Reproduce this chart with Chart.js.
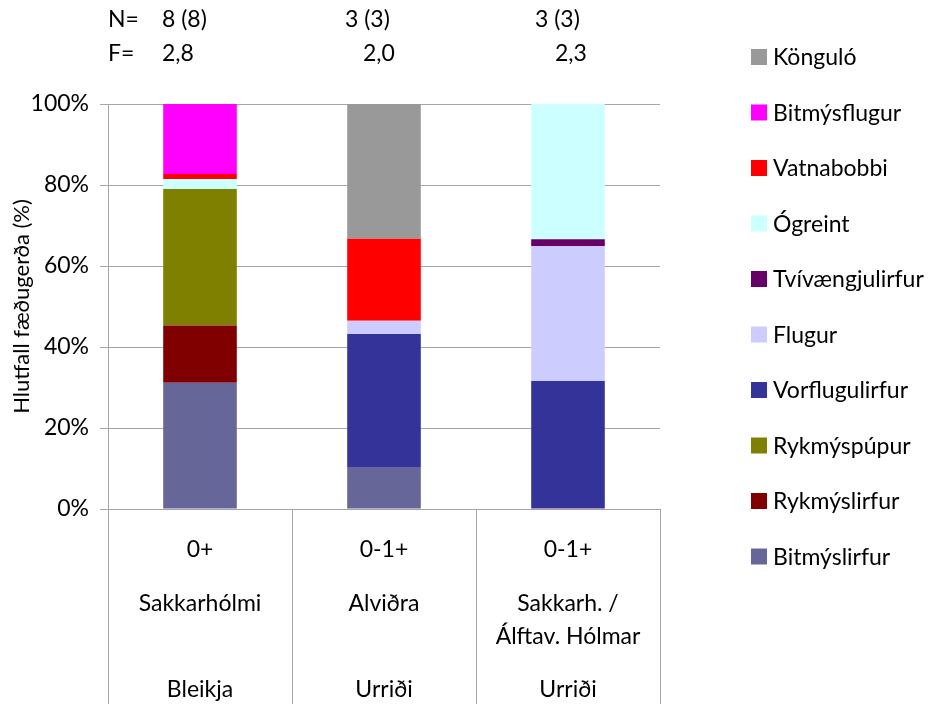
<!DOCTYPE html>
<html>
<head>
<meta charset="utf-8">
<script src="https://cdn.jsdelivr.net/npm/chart.js@4/dist/chart.umd.min.js"></script>
<style>
  html, body { margin: 0; padding: 0; background: #ffffff; }
  #wrap { width: 932px; height: 704px; }
</style>
</head>
<body>
<div id="wrap"><canvas id="c" width="932" height="704"></canvas></div>
<script>
// Food-type composition (% of diet) per sample group
const categories = ['Sakkarhólmi', 'Alviðra', 'Sakkarh. / Álftav. Hólmar'];
const ageLabels = ['0+', '0-1+', '0-1+'];
const placeLines = [['Sakkarhólmi'], ['Alviðra'], ['Sakkarh. /', 'Álftav. Hólmar']];
const speciesLabels = ['Bleikja', 'Urriði', 'Urriði'];
const nLabels = ['8 (8)', '3 (3)', '3 (3)'];
const fLabels = ['2,8', '2,0', '2,3'];
const yTicks = [0, 20, 40, 60, 80, 100];

// series, bottom of the stack first
const bitmyslirfur    = [31.2, 10.2, 0];
const rykmyslirfur    = [14.1, 0, 0];
const rykmyspupur     = [33.7, 0, 0];
const vorflugulirfur  = [0, 33.0, 31.6];
const flugur          = [0, 3.3, 33.3];
const tvivaengjulirfur= [0, 0, 1.7];
const ogreint         = [2.5, 0, 33.4];
const vatnabobbi      = [1.2, 20.2, 0];
const bitmysflugur    = [17.3, 0, 0];
const kongulo         = [0, 33.3, 0];

const seriesNames = ['Bitmýslirfur', 'Rykmýslirfur', 'Rykmýspúpur', 'Vorflugulirfur', 'Flugur',
  'Tvívængjulirfur', 'Ógreint', 'Vatnabobbi', 'Bitmýsflugur', 'Könguló'];
const seriesValues = [bitmyslirfur, rykmyslirfur, rykmyspupur, vorflugulirfur, flugur,
  tvivaengjulirfur, ogreint, vatnabobbi, bitmysflugur, kongulo];
const seriesColors = ['#666699', '#800000', '#808000', '#333399', '#ccccff',
  '#660066', '#ccffff', '#ff0000', '#ff00ff', '#999999'];

const FONT = 'Lato, "Open Sans", sans-serif';
const FS = 23;
const GRID = '#a6a6a6';

// header text offsets from each bar centre
const nOffsets = [-38, -39, -33];
const fOffsets = [-38, -21, -13];

const annotate = {
  id: 'annotate',
  afterDraw(chart) {
    const ctx = chart.ctx;
    const x = chart.scales.x;
    ctx.save();
    ctx.fillStyle = '#000';
    ctx.font = FS + 'px ' + FONT;
    ctx.textBaseline = 'alphabetic';
    // header rows
    ctx.textAlign = 'left';
    ctx.fillText('N=', 108, 27);
    ctx.fillText('F=', 108, 61);
    categories.forEach((c, i) => {
      const cx = x.getPixelForValue(i);
      ctx.fillText(nLabels[i], cx + nOffsets[i], 27);
      ctx.fillText(fLabels[i], cx + fOffsets[i], 61);
    });
    // category rows under the axis
    ctx.textAlign = 'center';
    categories.forEach((c, i) => {
      const cx = x.getPixelForValue(i);
      ctx.fillText(ageLabels[i], cx, 557);
      placeLines[i].forEach((line, k) => ctx.fillText(line, cx, 611 + k * 33));
      ctx.fillText(speciesLabels[i], cx, 697);
    });
    // legend, top of the stack first
    ctx.textAlign = 'left';
    ctx.textBaseline = 'middle';
    for (let k = 0; k < seriesNames.length; k++) {
      const idx = seriesNames.length - 1 - k;
      const cy = 57 + k * 55.5;
      ctx.fillStyle = seriesColors[idx];
      ctx.fillRect(751, cy - 8, 16, 16);
      ctx.fillStyle = '#000';
      ctx.fillText(seriesNames[idx], 773, cy + 1);
    }
    ctx.restore();
  }
};

new Chart(document.getElementById('c'), {
  type: 'bar',
  data: {
    labels: categories,
    datasets: seriesNames.map((name, i) => ({
      label: name,
      data: seriesValues[i],
      backgroundColor: seriesColors[i],
      borderWidth: 0,
      barPercentage: 0.4,
      categoryPercentage: 1.0
    }))
  },
  options: {
    responsive: false,
    devicePixelRatio: 1,
    animation: false,
    layout: { padding: { top: 104, right: 272, left: 0, bottom: 0 } },
    plugins: { legend: { display: false }, tooltip: { enabled: false } },
    scales: {
      x: {
        stacked: true,
        grid: { offset: true, drawOnChartArea: false, drawTicks: true, tickLength: 195, color: GRID, lineWidth: 1 },
        border: { color: GRID },
        ticks: { color: 'rgba(0,0,0,0)', font: { size: 1 } },
        afterFit(s) { s.height = 195; }
      },
      y: {
        stacked: true,
        min: 0,
        max: 100,
        afterBuildTicks(s) { s.ticks = yTicks.map(v => ({ value: v })); },
        ticks: {
          callback: v => v + '%',
          color: '#000',
          font: { family: FONT, size: FS },
          padding: 11
        },
        grid: { color: GRID, tickLength: 8, lineWidth: 1 },
        border: { color: GRID },
        title: {
          display: true,
          text: 'Hlutfall fæðugerða (%)',
          color: '#000',
          font: { family: FONT, size: 22 },
          padding: { top: 9, bottom: 0 }
        },
        afterFit(s) { s.width = 108; }
      }
    }
  },
  plugins: [annotate]
});
</script>
</body>
</html>
